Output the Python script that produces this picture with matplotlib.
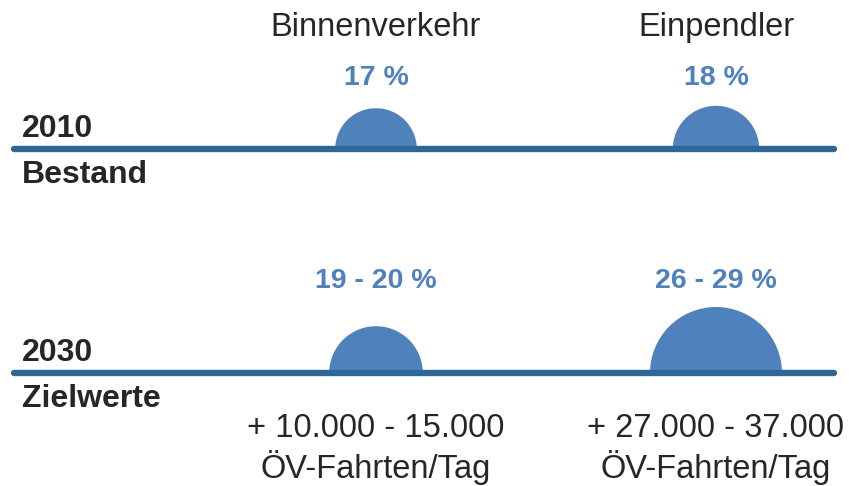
import matplotlib
matplotlib.use("Agg")
import matplotlib.pyplot as plt
from matplotlib.patches import Wedge

plt.rcParams['font.family'] = ['Liberation Sans', 'DejaVu Sans']

# Data
categories = ["Binnenverkehr", "Einpendler"]
years = ["2010", "2030"]
row_labels = ["Bestand", "Zielwerte"]
# share ranges (low, high) in percent per year and category
share_2010 = [(17, 17), (18, 18)]
share_2030 = [(19, 20), (26, 29)]
trips_line1 = ["+ 10.000 - 15.000", "+ 27.000 - 37.000"]
trips_line2 = ["ÖV-Fahrten/Tag", "ÖV-Fahrten/Tag"]

W, H = 849, 486
fig = plt.figure(figsize=(W / 100, H / 100), dpi=100)
ax = fig.add_axes([0, 0, 1, 1])
ax.set_xlim(0, W)
ax.set_ylim(H, 0)
ax.axis("off")

text_col = "#262626"
blue = "#4f81bd"
line_col = "#2e6897"

col_x = [376, 716]
row_y = [149, 373]
pct_label_y = [85, 288]
radius_per_pct = 2.4


def fmt(lo, hi):
    return f"{lo} %" if lo == hi else f"{lo} - {hi} %"


for cx, name in zip(col_x, categories):
    ax.text(cx, 36, name, ha="center", va="baseline", fontsize=23.5, color=text_col)

for ry, ly, year, rl, shares in zip(row_y, pct_label_y, years, row_labels,
                                     [share_2010, share_2030]):
    ax.plot([14, 834], [ry, ry], color=line_col, lw=4.6,
            solid_capstyle="round", zorder=3)
    ax.text(22, ry - 12, year, ha="left", va="baseline", fontsize=23,
            fontweight="bold", color=text_col)
    ax.text(22, ry + 34, rl, ha="left", va="baseline", fontsize=23,
            fontweight="bold", color=text_col)
    for cx, (lo, hi) in zip(col_x, shares):
        r = radius_per_pct * (lo + hi) / 2
        ax.add_patch(Wedge((cx, ry), r, 180, 360, facecolor=blue,
                           edgecolor="none", zorder=2))
        ax.text(cx, ly, fmt(lo, hi), ha="center", va="baseline",
                fontsize=20.5, fontweight="bold", color=blue)

for cx, t1, t2 in zip(col_x, trips_line1, trips_line2):
    ax.text(cx, 437, t1, ha="center", va="baseline", fontsize=23.5, color=text_col)
    ax.text(cx, 478, t2, ha="center", va="baseline", fontsize=23.5, color=text_col)

fig.savefig("out.png", dpi=100)
